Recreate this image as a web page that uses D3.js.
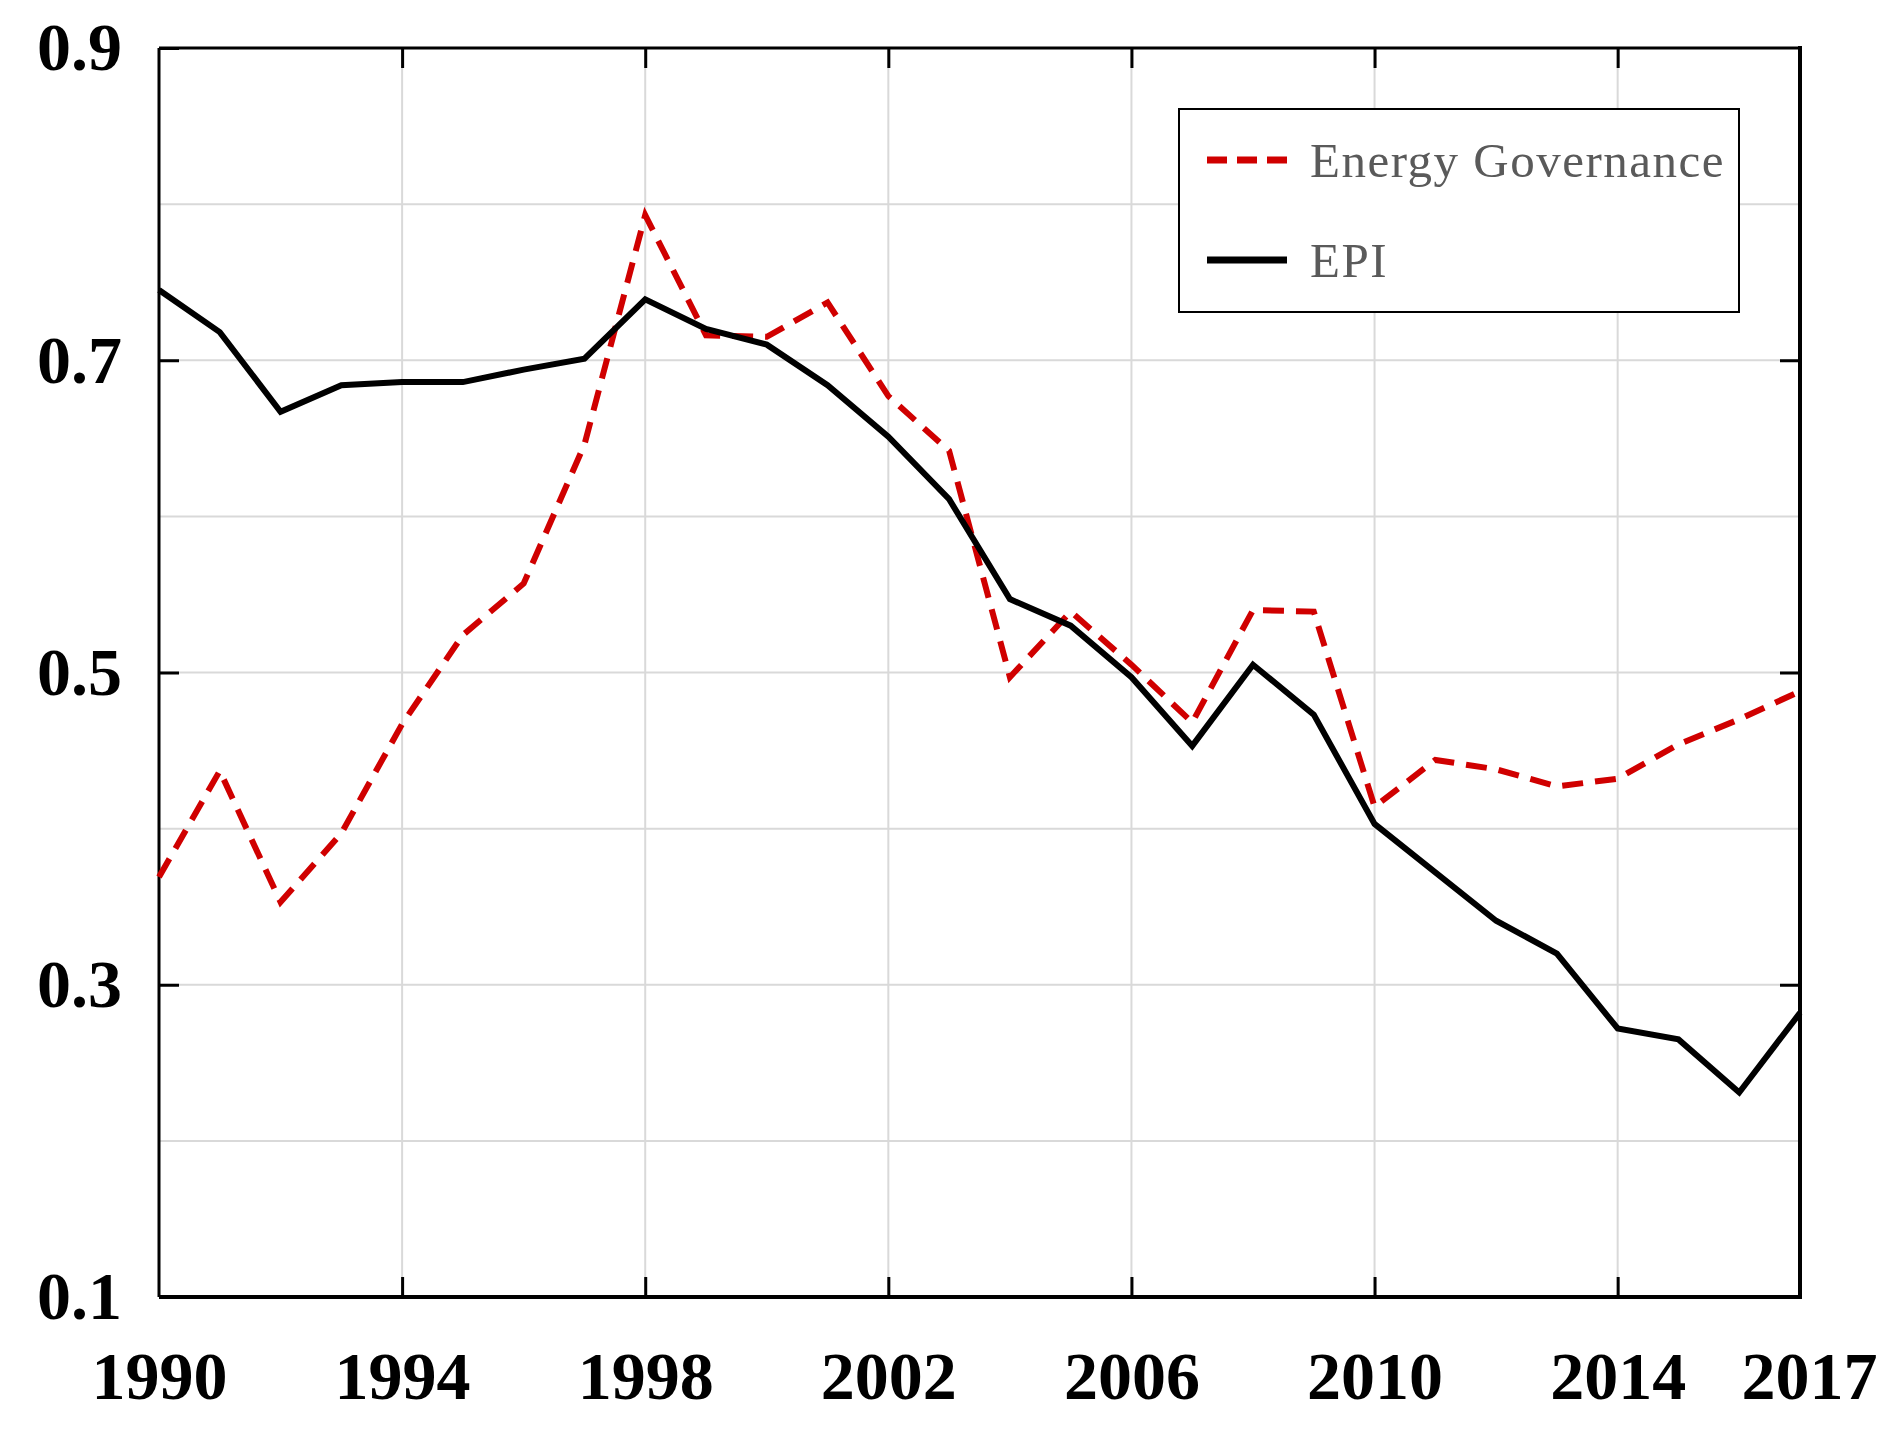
<!DOCTYPE html>
<html>
<head>
<meta charset="utf-8">
<script src="https://cdn.jsdelivr.net/npm/d3@7"></script>
<style>
  body { margin: 0; background: #fff; }
</style>
</head>
<body>
<div class="chart"></div>
<script>
// data
let years = d3.range(1990, 2018);
let energyGov = [0.369, 0.437, 0.353, 0.397, 0.467, 0.524, 0.557, 0.646, 0.793, 0.716,
  0.715, 0.737, 0.677, 0.642, 0.497, 0.539, 0.505, 0.468, 0.540, 0.539,
  0.414, 0.444, 0.438, 0.427, 0.432, 0.454, 0.470, 0.488];
let epi = [0.745, 0.718, 0.667, 0.684, 0.686, 0.686, 0.694, 0.701, 0.739, 0.720,
  0.710, 0.684, 0.651, 0.611, 0.547, 0.530, 0.497, 0.453, 0.505, 0.473,
  0.403, 0.372, 0.341, 0.320, 0.272, 0.265, 0.231, 0.282];
let xTicks = [1990, 1994, 1998, 2002, 2006, 2010, 2014, 2017];
let xGrid = [1994, 1998, 2002, 2006, 2010, 2014];
let yTicks = [0.1, 0.3, 0.5, 0.7, 0.9];
let yGrid = [0.2, 0.3, 0.4, 0.5, 0.6, 0.7, 0.8];
let seriesNames = ['Energy Governance', 'EPI'];

let margin = { top: 48, right: 99, bottom: 141, left: 159 };
let width = 1899 - margin.left - margin.right;
let height = 1438 - margin.top - margin.bottom;

let svg = d3.select('.chart')
  .append('svg')
    .attr('width', 1899)
    .attr('height', 1438)
  .append('g')
    .attr('transform', `translate(${margin.left}, ${margin.top})`);

let xScale = d3.scaleLinear().domain([1990, 2017]).range([0, width]);
let yScale = d3.scaleLinear().domain([0.1, 0.9]).range([height, 0]);

// grid
svg.append('g')
  .selectAll('line.h')
  .data(yGrid)
  .join('line')
    .attr('x1', 0).attr('x2', width)
    .attr('y1', d => yScale(d)).attr('y2', d => yScale(d))
    .style('stroke', '#d9d9d9').style('stroke-width', 2);

svg.append('g')
  .selectAll('line.v')
  .data(xGrid)
  .join('line')
    .attr('x1', d => xScale(d)).attr('x2', d => xScale(d))
    .attr('y1', 0).attr('y2', height)
    .style('stroke', '#d9d9d9').style('stroke-width', 2);

// inward ticks on all four sides
let tickFmt = d3.format('.1f');
let axisStyle = g => {
  g.select('.domain').remove();
  g.selectAll('.tick line').style('stroke', '#000').style('stroke-width', 3);
  g.selectAll('.tick text')
    .style('font-family', '"Liberation Serif", "Times New Roman", serif')
    .style('font-weight', 'bold')
    .style('font-size', '68px')
    .style('fill', '#000');
};

svg.append('g')
  .call(d3.axisLeft(yScale).tickValues(yTicks).tickFormat(tickFmt)
    .tickSizeInner(-20).tickSizeOuter(0).tickPadding(37))
  .call(axisStyle);

svg.append('g')
  .attr('transform', `translate(${width}, 0)`)
  .call(d3.axisRight(yScale).tickValues(yTicks.slice(1, -1)).tickFormat('')
    .tickSizeInner(-20).tickSizeOuter(0))
  .call(axisStyle);

svg.append('g')
  .attr('transform', `translate(0, ${height})`)
  .call(d3.axisBottom(xScale).tickValues(xTicks).tickFormat(d3.format('d'))
    .tickSizeInner(-20).tickSizeOuter(0).tickPadding(54))
  .call(axisStyle)
  .call(g => g.selectAll('.tick line').filter(d => d === 1990 || d === 2017).remove())
  .call(g => g.selectAll('.tick text').filter(d => d === 2017).attr('dx', 9));

svg.append('g')
  .call(d3.axisTop(xScale).tickValues(xGrid).tickFormat('')
    .tickSizeInner(-20).tickSizeOuter(0))
  .call(axisStyle);

// frame
svg.append('line').attr('x1', 0).attr('x2', width).attr('y1', 0).attr('y2', 0)
  .style('stroke', '#000').style('stroke-width', 3);
svg.append('line').attr('x1', 0).attr('x2', 0).attr('y1', 0).attr('y2', height)
  .style('stroke', '#000').style('stroke-width', 3);
svg.append('line').attr('x1', 0).attr('x2', width + 2).attr('y1', height).attr('y2', height)
  .style('stroke', '#000').style('stroke-width', 4);
svg.append('line').attr('x1', width).attr('x2', width).attr('y1', -2).attr('y2', height + 2)
  .style('stroke', '#000').style('stroke-width', 4);

// lines
let line = d3.line()
  .x((d, i) => xScale(years[i]))
  .y(d => yScale(d));

svg.append('path')
  .datum(energyGov)
  .attr('d', line)
  .style('fill', 'none')
  .style('stroke', '#d00000')
  .style('stroke-width', 6)
  .style('stroke-dasharray', '21 12');

svg.append('path')
  .datum(epi)
  .attr('d', line)
  .style('fill', 'none')
  .style('stroke', '#000')
  .style('stroke-width', 6)
  .style('stroke-linejoin', 'miter');

// legend
let legend = svg.append('g')
  .attr('transform', `translate(${1179 - margin.left}, ${109 - margin.top})`);

legend.append('rect')
  .attr('width', 560)
  .attr('height', 203)
  .style('fill', '#fff')
  .style('stroke', '#000')
  .style('stroke-width', 2);

let legendRows = [
  { name: seriesNames[0], color: '#d00000', dash: '20 10', y: 51 },
  { name: seriesNames[1], color: '#000', dash: null, y: 151 }
];

legendRows.forEach(r => {
  legend.append('line')
    .attr('x1', 28).attr('x2', 108)
    .attr('y1', r.y).attr('y2', r.y)
    .style('stroke', r.color)
    .style('stroke-width', 7)
    .style('stroke-dasharray', r.dash);
  legend.append('text')
    .attr('x', 131)
    .attr('y', r.y + 17)
    .text(r.name)
    .style('font-family', '"Liberation Serif", "Times New Roman", serif')
    .style('font-size', '49px')
    .style('letter-spacing', '1.5px')
    .style('fill', '#5a5a5a');
});
</script>
</body>
</html>
